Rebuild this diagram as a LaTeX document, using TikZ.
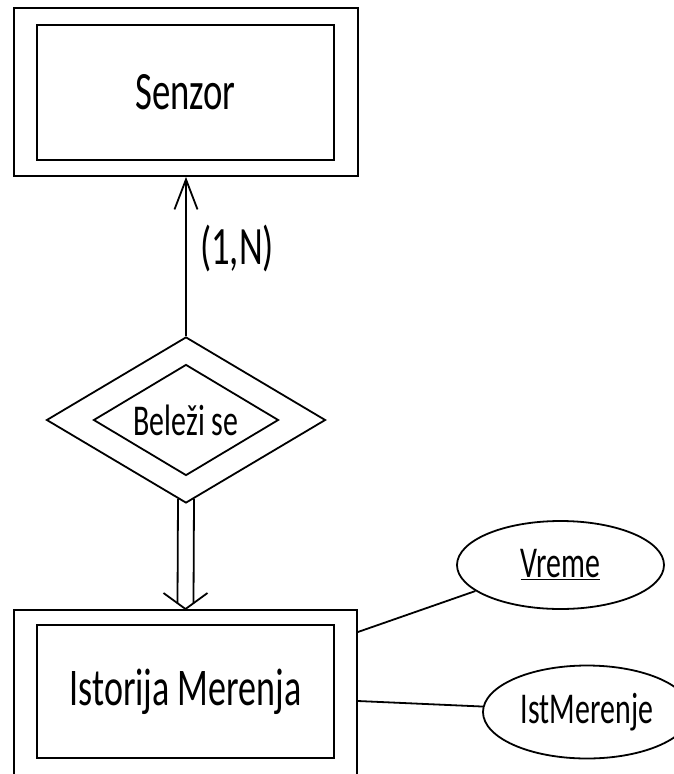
\documentclass[tikz,border=0pt]{standalone}
\usepackage{fontspec}
\setmainfont{Carlito}[FakeStretch=0.68]
\usetikzlibrary{shapes.geometric,arrows.meta,calc}
\begin{document}
\begin{tikzpicture}[x=1pt,y=-1pt, line width=1.8pt,
  box/.style={draw, rectangle, inner sep=0pt},
  rel/.style={draw, diamond, inner sep=0pt},
  attr/.style={draw, ellipse, inner sep=0pt},
  big/.style={font=\fontsize{54}{60}\selectfont},
  mid/.style={font=\fontsize{53}{58}\selectfont},
  small/.style={font=\fontsize{44}{50}\selectfont}]
\useasboundingbox (0,0) rectangle (674,774);
\clip (0,0) rectangle (674,774);
% Senzor (double box)
\node[box, minimum width=344pt, minimum height=168pt] (senzorOut) at (186,92) {};
\node[box, big, minimum width=297pt, minimum height=135pt] (senzor) at (185.5,92.5) {Senzor};
% Relationship
\node[rel, minimum width=279pt, minimum height=166pt] (relOut) at (186,420) {};
\node[rel, small, shape aspect=1.667, minimum width=185pt, minimum height=111pt] (rel) at (186,420) {Beleži se};
% Istorija Merenja
\node[box, minimum width=343pt, minimum height=220pt, anchor=north] (istOut) at (185.5,609) {};
\node[box, mid, minimum width=297pt, minimum height=133pt] (ist) at (185.5,691.5) {Istorija Merenja};
% Attributes
\node[attr, small, minimum width=207pt, minimum height=88pt] (vreme) at (560.5,565) {\underline{Vreme}};
\node[attr, small, minimum width=208pt, minimum height=93pt] (istm) at (587,712) {IstMerenje};
% Cardinality
\node[big] (card) at (237,248) {(1,N)};
% Connectors
\draw[-{Straight Barb[length=30pt,width=23pt]}] (relOut.north) -- (senzorOut.south);
\draw ($(relOut.south)+(-8,-5)$) -- ($(istOut.north)+(-8,-6)$);
\draw ($(relOut.south)+(8,-5)$) -- ($(istOut.north)+(8,-6)$);
\draw ($(istOut.north)+(-22,-16)$) -- (istOut.north) -- ($(istOut.north)+(22,-16)$);
\draw ($(istOut.north east)+(0,23)$) -- (vreme.197);
\draw ($(istOut.north east)+(0,92)$) -- (istm.177);
\end{tikzpicture}
\end{document}
